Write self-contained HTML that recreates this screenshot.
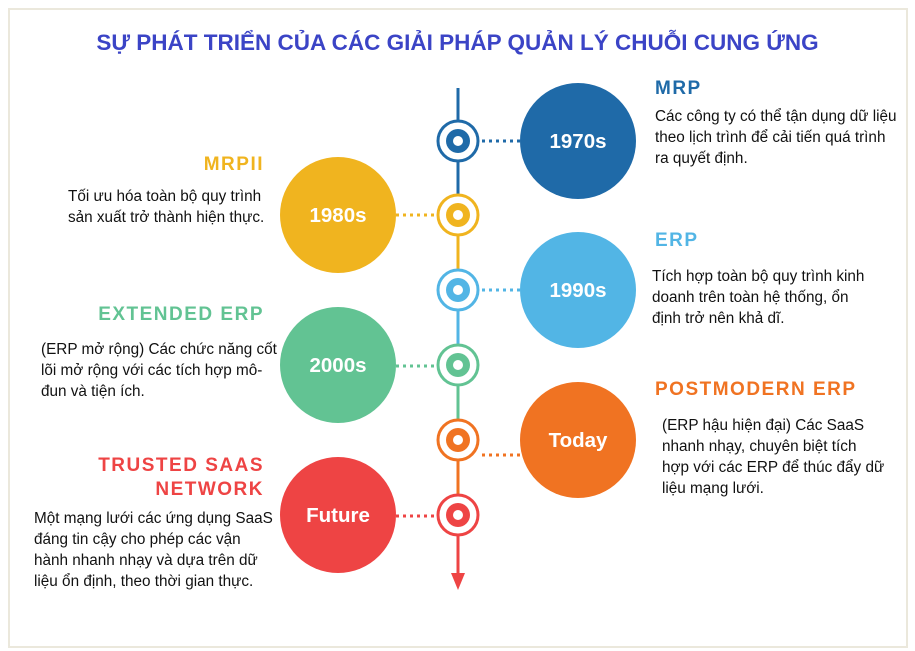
<!DOCTYPE html>
<html><head><meta charset="utf-8"><style>
body{margin:0;width:915px;height:651px;background:#fff;position:relative;overflow:hidden;font-family:"Liberation Sans",sans-serif}
.frame{position:absolute;left:8px;top:8px;width:896px;height:636px;border:2px solid #ebe8dc}
h1{position:absolute;left:0;width:915px;top:30px;margin:0;text-align:center;font-size:22.5px;color:#3b44c6;font-weight:bold;white-space:nowrap}
.h{position:absolute;font-weight:bold;font-size:19px;letter-spacing:1.5px;white-space:nowrap}
.b{position:absolute;font-size:15.3px;line-height:21px;color:#111;white-space:nowrap}
.r{text-align:right}
</style></head><body>
<div class="frame"></div>
<h1>SỰ PHÁT TRIỂN CỦA CÁC GIẢI PHÁP QUẢN LÝ CHUỖI CUNG ỨNG</h1>
<svg width="915" height="651" style="position:absolute;left:0;top:0">
<g stroke-width="3">
<line x1="458" y1="88" x2="458" y2="215" stroke="#1f6aa8"/>
<line x1="458" y1="215" x2="458" y2="290" stroke="#f0b41f"/>
<line x1="458" y1="290" x2="458" y2="365" stroke="#52b5e5"/>
<line x1="458" y1="365" x2="458" y2="440" stroke="#62c393"/>
<line x1="458" y1="440" x2="458" y2="515" stroke="#f07322"/>
<line x1="458" y1="515" x2="458" y2="575" stroke="#ee4444"/>
</g>
<polygon points="451,573 465,573 458,590" fill="#ee4444"/>
<g stroke-width="3" stroke-dasharray="3,4" fill="none">
<line x1="482" y1="141" x2="522" y2="141" stroke="#1f6aa8"/>
<line x1="396" y1="215" x2="436" y2="215" stroke="#f0b41f"/>
<line x1="482" y1="290" x2="522" y2="290" stroke="#52b5e5"/>
<line x1="396" y1="366" x2="436" y2="366" stroke="#62c393"/>
<line x1="482" y1="455" x2="522" y2="455" stroke="#f07322"/>
<line x1="396" y1="516" x2="436" y2="516" stroke="#ee4444"/>
</g>
<g>
<circle cx="578" cy="141" r="58" fill="#1f6aa8"/>
<circle cx="338" cy="215" r="58" fill="#f0b41f"/>
<circle cx="578" cy="290" r="58" fill="#52b5e5"/>
<circle cx="338" cy="365" r="58" fill="#62c393"/>
<circle cx="578" cy="440" r="58" fill="#f07322"/>
<circle cx="338" cy="515" r="58" fill="#ee4444"/>
</g>
<g font-family="Liberation Sans,sans-serif" font-weight="bold" font-size="20.5" fill="#fff" text-anchor="middle">
<text x="578" y="148">1970s</text>
<text x="338" y="222">1980s</text>
<text x="578" y="297">1990s</text>
<text x="338" y="372">2000s</text>
<text x="578" y="447">Today</text>
<text x="338" y="522">Future</text>
</g>
<g>
<g transform="translate(458,141)"><circle r="20" fill="#fff" stroke="#1f6aa8" stroke-width="3"/><circle r="12" fill="#1f6aa8"/><circle r="5" fill="#fff"/></g>
<g transform="translate(458,215)"><circle r="20" fill="#fff" stroke="#f0b41f" stroke-width="3"/><circle r="12" fill="#f0b41f"/><circle r="5" fill="#fff"/></g>
<g transform="translate(458,290)"><circle r="20" fill="#fff" stroke="#52b5e5" stroke-width="3"/><circle r="12" fill="#52b5e5"/><circle r="5" fill="#fff"/></g>
<g transform="translate(458,365)"><circle r="20" fill="#fff" stroke="#62c393" stroke-width="3"/><circle r="12" fill="#62c393"/><circle r="5" fill="#fff"/></g>
<g transform="translate(458,440)"><circle r="20" fill="#fff" stroke="#f07322" stroke-width="3"/><circle r="12" fill="#f07322"/><circle r="5" fill="#fff"/></g>
<g transform="translate(458,515)"><circle r="20" fill="#fff" stroke="#ee4444" stroke-width="3"/><circle r="12" fill="#ee4444"/><circle r="5" fill="#fff"/></g>
</g>
</svg>

<div class="h" style="left:655px;top:78px;color:#1f6aa8">MRP</div>
<div class="b" style="left:655px;top:106px">Các công ty có thể tận dụng dữ liệu<br>theo lịch trình để cải tiến quá trình<br>ra quyết định.</div>

<div class="h r" style="right:651px;top:154px;color:#f0b41f">MRPII</div>
<div class="b" style="left:68px;top:186px">Tối ưu hóa toàn bộ quy trình<br>sản xuất trở thành hiện thực.</div>

<div class="h" style="left:655px;top:230px;color:#52b5e5">ERP</div>
<div class="b" style="left:652px;top:266px">Tích hợp toàn bộ quy trình kinh<br>doanh trên toàn hệ thống, ổn<br>định trở nên khả dĩ.</div>

<div class="h r" style="right:651px;top:304px;color:#62c393">EXTENDED ERP</div>
<div class="b" style="left:41px;top:339px">(ERP mở rộng) Các chức năng cốt<br>lõi mở rộng với các tích hợp mô-<br>đun và tiện ích.</div>

<div class="h" style="left:655px;top:379px;color:#f07322">POSTMODERN ERP</div>
<div class="b" style="left:662px;top:415px">(ERP hậu hiện đại) Các SaaS<br>nhanh nhạy, chuyên biệt tích<br>hợp với các ERP để thúc đẩy dữ<br>liệu mạng lưới.</div>

<div class="h r" style="right:651px;top:454px;line-height:24px;color:#ee4444">TRUSTED SAAS<br>NETWORK</div>
<div class="b" style="left:34px;top:508px">Một mạng lưới các ứng dụng SaaS<br>đáng tin cậy cho phép các vận<br>hành nhanh nhạy và dựa trên dữ<br>liệu ổn định, theo thời gian thực.</div>
</body></html>
